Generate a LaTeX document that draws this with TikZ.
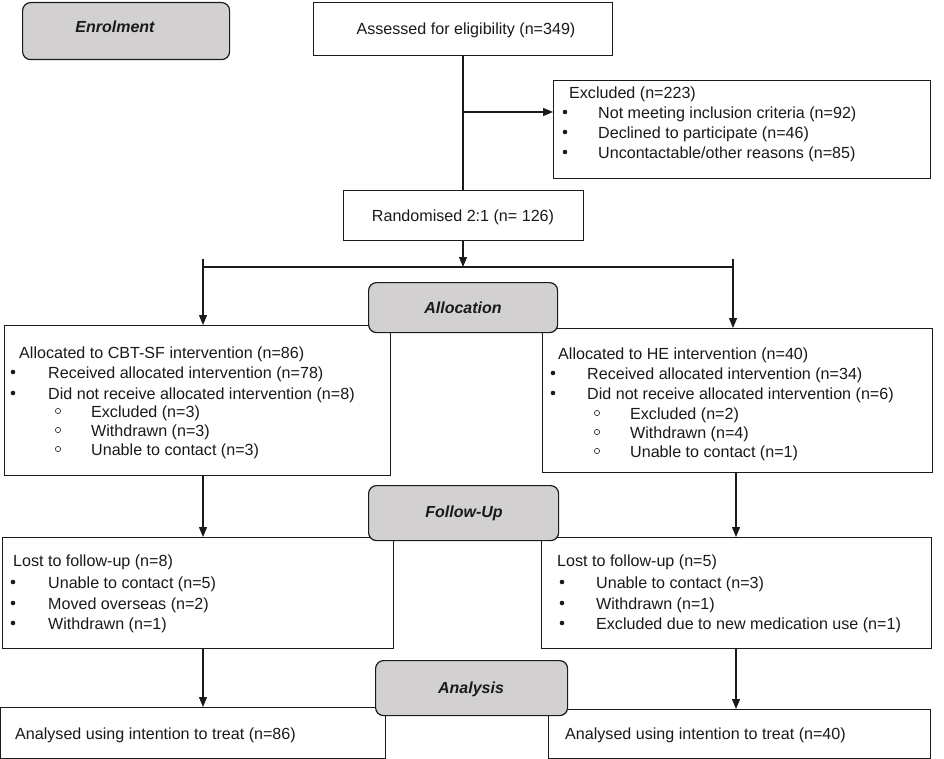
\documentclass[tikz,border=0pt]{standalone}
\usepackage{fontspec}
\setmainfont{Liberation Sans}
\usetikzlibrary{arrows.meta}
\definecolor{phasegray}{HTML}{D2D0D1}
\definecolor{ink}{HTML}{1A1A1A}
\tikzset{
  box/.style={draw=ink, line width=1.2pt, fill=white, anchor=north west, inner sep=0pt},
  phase/.style={draw=ink, line width=1.2pt, fill=phasegray, rounded corners=8pt, anchor=north west, inner sep=0pt},
  txt/.style={anchor=mid west, inner sep=0pt, yshift=-3.5pt, text=ink, font=\fontsize{16.1}{19}\selectfont},
  ctxt/.style={anchor=mid, inner sep=0pt, yshift=-3.5pt, text=ink, font=\fontsize{16.1}{19}\selectfont},
  htxt/.style={anchor=mid, inner sep=0pt, yshift=-3.5pt, text=ink, font=\fontsize{16}{19}\selectfont\bfseries\itshape},
  conn/.style={draw=ink, line width=1.2pt},
  arr/.style={conn, -{Triangle[length=10pt,width=8pt]}},
}
\newcommand{\fcbul}[2]{\fill[ink] (#1,#2) circle (2.3pt);}
\newcommand{\fcsub}[2]{\draw[ink, line width=0.6pt] (#1,#2) circle (2.6pt);}
\begin{document}
\begin{tikzpicture}[x=1pt,y=-1pt]
\useasboundingbox (0,0) rectangle (944,759);

% ---------- main boxes ----------
\node[box, minimum width=299pt, minimum height=53pt] (assess) at (313,2) {};
\node[ctxt] (assesst) at (466,28) {Assessed for eligibility (n=349)};

\node[box, minimum width=377pt, minimum height=98pt] (excl) at (553,80) {};
\node[txt] (exclh) at (569,92) {Excluded (n=223)};
\fcbul{565}{112}\node[txt] (excl1) at (598,112) {Not meeting inclusion criteria (n=92)};
\fcbul{565}{132}\node[txt] (excl2) at (598,132) {Declined to participate (n=46)};
\fcbul{565}{152}\node[txt] (excl3) at (598,152) {Uncontactable/other reasons (n=85)};

\node[box, minimum width=240pt, minimum height=50pt] (rand) at (343,190) {};
\node[ctxt] (randt) at (463,215) {Randomised 2:1 (n= 126)};

\node[box, minimum width=386pt, minimum height=150pt] (cbt) at (4,325) {};
\node[txt] (cbth) at (19,352) {Allocated to CBT-SF intervention (n=86)};
\fcbul{13}{372}\node[txt] (cbt1) at (48,372) {Received allocated intervention (n=78)};
\fcbul{13}{393}\node[txt] (cbt2) at (48,393) {Did not receive allocated intervention (n=8)};
\fcsub{58}{411}\node[txt] (cbt3) at (91,411) {Excluded (n=3)};
\fcsub{58}{430}\node[txt] (cbt4) at (91,430) {Withdrawn (n=3)};
\fcsub{58}{449}\node[txt] (cbt5) at (91,449) {Unable to contact (n=3)};

\node[box, minimum width=390pt, minimum height=144pt] (he) at (542,328) {};
\node[txt] (heh) at (558,353) {Allocated to HE intervention (n=40)};
\fcbul{553}{373}\node[txt] (he1) at (587,373) {Received allocated intervention (n=34)};
\fcbul{553}{393}\node[txt] (he2) at (587,393) {Did not receive allocated intervention (n=6)};
\fcsub{597}{413}\node[txt] (he3) at (630,413) {Excluded (n=2)};
\fcsub{597}{432}\node[txt] (he4) at (630,432) {Withdrawn (n=4)};
\fcsub{597}{451}\node[txt] (he5) at (630,451) {Unable to contact (n=1)};

\node[box, minimum width=391pt, minimum height=111pt] (lostl) at (2,537) {};
\node[txt] (lostlh) at (13,560) {Lost to follow-up (n=8)};
\fcbul{13}{582}\node[txt] (lostl1) at (48,582) {Unable to contact (n=5)};
\fcbul{13}{603}\node[txt] (lostl2) at (48,603) {Moved overseas (n=2)};
\fcbul{13}{623}\node[txt] (lostl3) at (48,623) {Withdrawn (n=1)};

\node[box, minimum width=390pt, minimum height=111pt] (lostr) at (541,537) {};
\node[txt] (lostrh) at (557,560) {Lost to follow-up (n=5)};
\fcbul{562}{582}\node[txt] (lostr1) at (596,582) {Unable to contact (n=3)};
\fcbul{562}{603}\node[txt] (lostr2) at (596,603) {Withdrawn (n=1)};
\fcbul{562}{623}\node[txt] (lostr3) at (596,623) {Excluded due to new medication use (n=1)};

\node[box, minimum width=385pt, minimum height=51pt] (anal) at (0,707) {};
\node[txt] (analt) at (15,733) {Analysed using intention to treat (n=86)};
\node[box, minimum width=382pt, minimum height=49pt] (anar) at (548,709) {};
\node[txt] (anart) at (565,733) {Analysed using intention to treat (n=40)};

% ---------- connectors ----------
\coordinate (jx) at (463,112);
\coordinate (jh) at (463,267);
\coordinate (jl) at (203,267);
\coordinate (jr) at (733,267);
\coordinate (jlt) at (203,259);
\coordinate (jrt) at (733,259);
\draw[conn] (assess.south -| jx) -- (rand.north -| jx);
\draw[arr] (jx) -- (jx -| excl.west);
\draw[arr] (rand.south -| jh) -- (jh);
\draw[conn] (jl) -- (jr);
\draw[arr] (jlt) -- (jl |- cbt.north);
\draw[arr] (jrt) -- (jr |- he.north);
\draw[arr] (203,475) coordinate (c1) (c1 |- cbt.south) -- (c1 |- lostl.north);
\draw[arr] (736,472) coordinate (c2) (c2 |- he.south) -- (c2 |- lostr.north);
\draw[arr] (203,648) coordinate (c3) (c3 |- lostl.south) -- (c3 |- anal.north);
\draw[arr] (736,648) coordinate (c4) (c4 |- lostr.south) -- (c4 |- anar.north);

% ---------- phase labels ----------
\node[phase, minimum width=207pt, minimum height=57pt] (enrol) at (22,2) {};
\node[htxt] (enrolt) at (115,26) {Enrolment};
\node[phase, minimum width=189pt, minimum height=50pt] (alloc) at (368,282) {};
\node[htxt] (alloct) at (463,307) {Allocation};
\node[phase, minimum width=190pt, minimum height=55pt] (foll) at (368,485) {};
\node[htxt] (follt) at (464,511) {Follow-Up};
\node[phase, minimum width=192pt, minimum height=55pt] (anap) at (375,660) {};
\node[htxt] (anapt) at (471,687) {Analysis};
\end{tikzpicture}
\end{document}
